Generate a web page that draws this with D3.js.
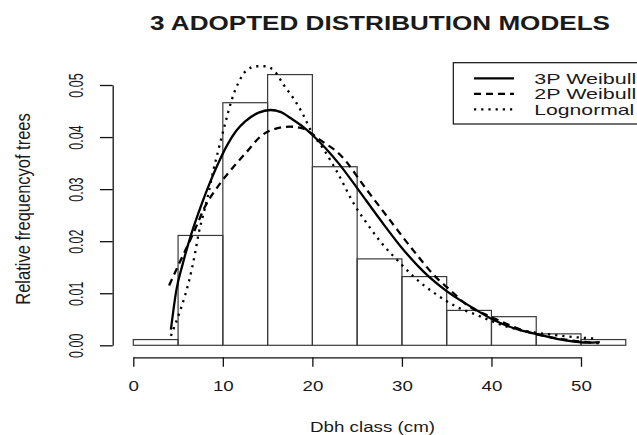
<!DOCTYPE html>
<html><head><meta charset="utf-8">
<script src="https://cdn.jsdelivr.net/npm/d3@7"></script>
<style>
html,body{margin:0;padding:0;background:#fff;}
text{font-family:"Liberation Sans",Arial,sans-serif;fill:#1a1a1a;}
</style></head>
<body>
<svg id="chart" width="637" height="435"></svg>
<script>
// ---- data ----
const binEdges = [0,5,10,15,20,25,30,35,40,45,50,55];
const relFreq = [0.0011,0.0211,0.0466,0.0520,0.0343,0.0166,0.0132,0.0067,0.0055,0.0022,0.0011];
const xTicks = [0,10,20,30,40,50];
const yTicks = [0.00,0.01,0.02,0.03,0.04,0.05];
const weibull3X = [4.2,4.8,5.5,6.5,7.5,8.5,9.5,10.5,11.5,12.5,14,15.3,16.5,17.5,19,20,21.5,23,25,27.5,30,32.5,35,38,40.2,43.2,45.4,48.4,50.7,52.1];
const weibull3Y = [0.003,0.0105,0.0155,0.0215,0.0265,0.0310,0.0350,0.0385,0.0412,0.0430,0.0447,0.0452,0.0448,0.0437,0.0419,0.0404,0.0378,0.0348,0.0302,0.0243,0.0187,0.0140,0.0104,0.0071,0.0049,0.0029,0.0020,0.0009,0.0005,0.0006];
const weibull2X = [4.0,5.2,6.7,8,9.7,11.2,12.7,14.2,15.5,17.5,19,20.9,23.1,26.1,28.5,31.1,33.9,35.4,37.3,39.9,44,46.2,50.7,52];
const weibull2Y = [0.0115,0.016,0.0215,0.0266,0.0311,0.0343,0.0372,0.0401,0.0414,0.042,0.0416,0.0394,0.0366,0.0298,0.0244,0.0186,0.0129,0.0106,0.0077,0.0055,0.0026,0.0017,0.0006,0.0004];
const lognormX = [4.2,5.2,5.8,6.3,6.9,7.3,7.8,8.4,8.9,9.5,10.4,11.0,11.7,12.7,13.8,14.7,15.8,16.8,17.9,19.0,19.9,21.2,22.7,24.8,26.1,27.6,29.8,31.3,33.9,36.1,38.4,41.7,46.9,51.4];
const lognormY = [0.0018,0.0065,0.0097,0.0129,0.0177,0.0215,0.025,0.0292,0.0333,0.0375,0.0435,0.0472,0.0503,0.0529,0.0536,0.0536,0.0526,0.05,0.0474,0.0442,0.041,0.0378,0.0335,0.0267,0.0234,0.0199,0.0158,0.0132,0.0097,0.0074,0.0058,0.0036,0.002,0.0013];
const legendLabels = ["3P Weibull","2P Weibull","Lognormal"];
const titleText = "3 ADOPTED DISTRIBUTION MODELS";
const xLabel = "Dbh class (cm)";
const yLabel = "Relative frequencyof trees";

const svg = d3.select("#chart");
const x = d3.scaleLinear().domain([0,50]).range([133.3,581]);
const y = d3.scaleLinear().domain([0,0.05]).range([345.3,85]);

// bars
svg.append("g").selectAll("rect").data(relFreq).join("rect")
  .attr("x",(d,i)=>x(binEdges[i]))
  .attr("width",(d,i)=>x(binEdges[i+1])-x(binEdges[i]))
  .attr("y",d=>y(d))
  .attr("height",d=>y(0)-y(d))
  .attr("fill","none").attr("stroke","#3a3a3a").attr("stroke-width",1.2);

// curves
const line = d3.line().x(d=>x(d[0])).y(d=>y(d[1])).curve(d3.curveMonotoneX);
const series = [
  {xs:weibull3X, ys:weibull3Y, dash:null},
  {xs:weibull2X, ys:weibull2Y, dash:"7,5"},
  {xs:lognormX, ys:lognormY, dash:"2.2,5"}
];
series.forEach(s=>{
  svg.append("path").datum(s.xs.map((v,i)=>[v,s.ys[i]]))
    .attr("d",line).attr("fill","none").attr("stroke","#000")
    .attr("stroke-width",2.3).attr("stroke-dasharray",s.dash);
});

// x axis
const xa = svg.append("g").attr("transform","translate(0,357.3)")
  .call(d3.axisBottom(x).tickValues(xTicks).tickSize(9.5).tickSizeOuter(0).tickPadding(14));
xa.select(".domain").attr("stroke","#111").attr("stroke-width",1.3);
xa.selectAll(".tick line").attr("stroke","#111").attr("stroke-width",1.3);
xa.selectAll("text").attr("font-size",15).attr("fill","#1a1a1a").attr("font-family","Liberation Sans, Arial, sans-serif")
  .attr("transform","scale(1.25,1)").attr("dy","0.71em");

// y axis
const ya = svg.append("g").attr("transform","translate(112.7,0)")
  .call(d3.axisLeft(y).tickValues(yTicks).tickSize(12.7).tickSizeOuter(0).tickFormat(d3.format(".2f")));
ya.select(".domain").attr("stroke","#111").attr("stroke-width",1.3);
ya.selectAll(".tick line").attr("stroke","#111").attr("stroke-width",1.3);
ya.selectAll("text").attr("x",0).attr("y",0).attr("dy",null)
  .attr("font-size",12.5).attr("fill","#1a1a1a").attr("font-family","Liberation Sans, Arial, sans-serif")
  .attr("text-anchor","middle")
  .attr("transform","translate(-29.5,0) scale(1.6,1) rotate(-90)");

// title
svg.append("text").attr("x",150).attr("y",30).attr("font-size",19.5).attr("font-weight","bold")
  .attr("textLength",460).attr("lengthAdjust","spacingAndGlyphs").text(titleText);
// x label
svg.append("text").attr("x",310).attr("y",432).attr("font-size",15.5)
  .attr("textLength",125).attr("lengthAdjust","spacingAndGlyphs").text(xLabel);
// y label
svg.append("text").attr("transform","translate(30,209) scale(1.25,1) rotate(-90)").attr("text-anchor","middle")
  .attr("font-size",16.5).text(yLabel);

// legend
const lg = svg.append("g");
lg.append("rect").attr("x",453.3).attr("y",62.7).attr("width",200).attr("height",61.3)
  .attr("fill","#fff").attr("stroke","#111").attr("stroke-width",1.2);
legendLabels.forEach((lab,i)=>{
  const yy = 78.3 + i*15.5;
  lg.append("line").attr("x1",474).attr("x2",514).attr("y1",yy).attr("y2",yy)
    .attr("stroke","#000").attr("stroke-width",2.3).attr("stroke-dasharray",series[i].dash);
  lg.append("text").attr("x",534.3).attr("y",yy+5.3).attr("font-size",15)
    .attr("textLength",[102,102,100][i]).attr("lengthAdjust","spacingAndGlyphs").text(lab);
});
</script>
</body></html>
